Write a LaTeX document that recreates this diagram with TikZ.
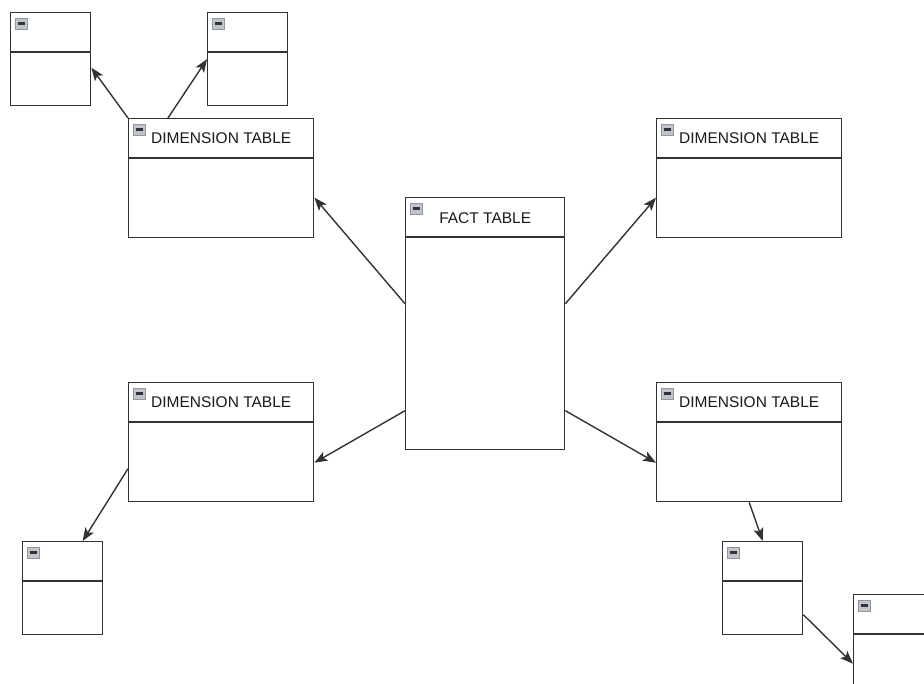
\documentclass[tikz,border=0pt]{standalone}
\usepackage{fontspec}
\setmainfont{Liberation Sans}
\usetikzlibrary{arrows.meta}

\definecolor{edgegray}{HTML}{333333}
\definecolor{iconfill}{HTML}{BFC4CD}
\definecolor{iconedge}{HTML}{9096A0}

\tikzset{
  tbl/.style={draw=edgegray, line width=1.4pt, fill=white, inner sep=0pt, anchor=north west},
  subtbl/.style={tbl, minimum width=80pt, minimum height=93pt},
  dimtbl/.style={tbl, minimum width=185pt, minimum height=119pt},
  facttbl/.style={tbl, minimum width=159pt, minimum height=252pt},
  title/.style={font=\fontsize{15.5}{18}\selectfont, text=black!90, inner sep=0pt},
  link/.style={draw=edgegray, line width=1.4pt, -{Stealth[length=13pt,width=10pt,inset=3pt]}}
}

% header line and the little minus icon of a table
\newcommand\tblhead[1]{%
  \draw[edgegray, line width=1.4pt] ([yshift=-40pt]#1.north west) -- ([yshift=-40pt]#1.north east);
  \draw[fill=iconfill, draw=iconedge, line width=0.9pt] ([xshift=5pt,yshift=-6pt]#1.north west) rectangle ++(12,11);
  \draw[edgegray, line width=2.6pt] ([xshift=7.5pt,yshift=-11.5pt]#1.north west) -- ++(7,0);
}

\begin{document}
\begin{tikzpicture}[x=1pt, y=-1pt]
  \useasboundingbox (0,0) rectangle (924,683);
  \clip (0,0) rectangle (924,683);

  % tables
  \node[facttbl] (fact) at (405,197) {};
  \node[dimtbl] (dimNW) at (128,118) {};
  \node[dimtbl] (dimNE) at (656,118) {};
  \node[dimtbl] (dimSW) at (128,382) {};
  \node[dimtbl] (dimSE) at (656,382) {};
  \node[subtbl] (subA) at (10,12) {};
  \node[subtbl] (subB) at (207,12) {};
  \node[subtbl] (subC) at (22,541) {};
  \node[subtbl] (subD) at (722,541) {};
  \node[subtbl] (subE) at (853,594) {};

  \foreach \t in {fact,dimNW,dimNE,dimSW,dimSE,subA,subB,subC,subD,subE}
    \tblhead{\t};

  % titles
  \node[title] (factname) at ([yshift=-21pt]fact.north) {FACT TABLE};
  \node[title] (dimNWname) at ([yshift=-20.5pt]dimNW.north) {DIMENSION TABLE};
  \node[title] (dimNEname) at ([yshift=-20.5pt]dimNE.north) {DIMENSION TABLE};
  \node[title] (dimSWname) at ([yshift=-20.5pt]dimSW.north) {DIMENSION TABLE};
  \node[title] (dimSEname) at ([yshift=-20.5pt]dimSE.north) {DIMENSION TABLE};

  % links
  \draw[link] ([yshift=20pt]fact.west) -- ([yshift=-19.5pt]dimNW.east);
  \draw[link] ([yshift=20pt]fact.east) -- ([yshift=-19.5pt]dimNE.west);
  \draw[link] ([yshift=-87pt]fact.west) -- ([yshift=-20.5pt]dimSW.east);
  \draw[link] ([yshift=-87pt]fact.east) -- ([yshift=-20.5pt]dimSE.west);
  \draw[link] (dimNW.north west) -- ([yshift=-8.5pt]subA.east);
  \draw[link] ([xshift=40pt]dimNW.north west) -- (subB.west);
  \draw[link] ([yshift=-26.5pt]dimSW.west) -- ([xshift=20pt]subC.north);
  \draw[link] (dimSE.south) -- (subD.north);
  \draw[link] ([yshift=-26.5pt]subD.east) -- ([yshift=-22.5pt]subE.west);
\end{tikzpicture}
\end{document}
